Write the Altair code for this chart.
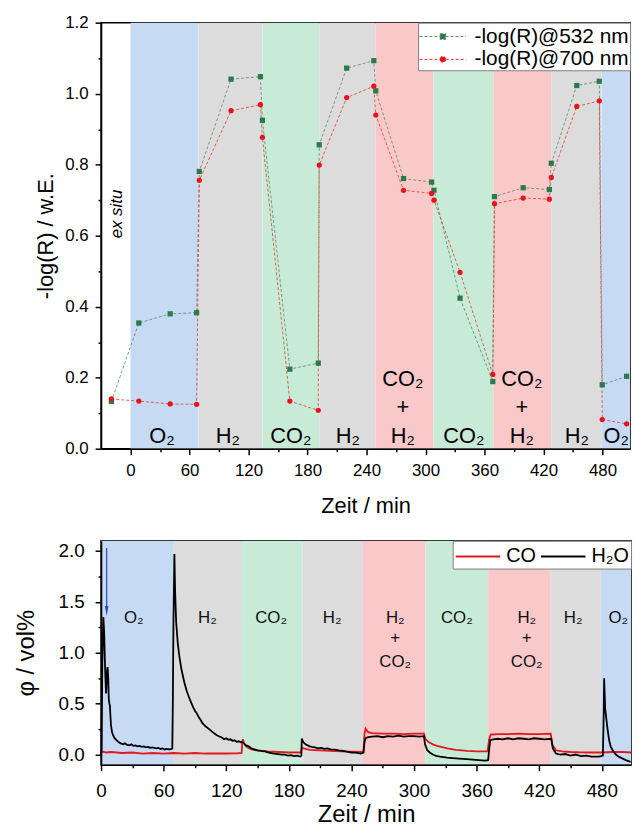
import altair as alt
import pandas as pd

FONT = "Liberation Sans"

# ---------------- top panel: reflectance ----------------
refl_t = [-19.5, 8.4, 40.3, 67.2, 69.9, 102.2, 132.1, 134.1, 162.0, 190.9, 191.9, 219.8, 247.4,
          249.4, 277.6, 306.2, 308.6, 335.1, 368.4, 370.1, 399.3, 425.9, 427.9, 453.8, 476.7,
          479.7, 504.5]
refl_532 = [0.133, 0.354, 0.380, 0.383, 0.781, 1.041, 1.048, 0.925, 0.224, 0.241, 0.856, 1.072,
            1.093, 1.008, 0.761, 0.751, 0.728, 0.424, 0.189, 0.710, 0.735, 0.730, 0.804, 1.023,
            1.035, 0.180, 0.204]
refl_700 = [0.140, 0.134, 0.126, 0.125, 0.756, 0.952, 0.969, 0.877, 0.134, 0.108, 0.799, 0.989,
            1.021, 0.940, 0.728, 0.719, 0.700, 0.497, 0.209, 0.690, 0.706, 0.703, 0.764, 0.964,
            0.980, 0.082, 0.070]
series_names = ["-log(R)@532 nm", "-log(R)@700 nm"]

top_band_start = [0, 69, 134, 192, 249, 308, 369, 428, 479]
top_band_end = [69, 134, 192, 249, 308, 369, 428, 479, 508]
top_band_gas = ["O2", "H2", "CO2", "H2", "mix", "CO2", "mix", "H2", "O2"]

top_label_t = [32, 99, 163, 221, 277, 277, 277, 339, 398, 398, 398, 454, 494]
top_label_v = [0.035, 0.035, 0.035, 0.035, 0.197, 0.117, 0.035, 0.035, 0.197, 0.117, 0.035, 0.035, 0.035]
top_label_text = ["O₂", "H₂", "CO₂", "H₂", "CO₂", "+", "H₂", "CO₂", "CO₂", "+", "H₂", "H₂", "O₂"]

# ---------------- bottom panel: gas analysis ----------------
h2o_t = [0, 0.5, 1.2, 2.2, 3.0, 3.6, 4.2, 4.8, 5.3, 5.8, 6.3, 6.9, 7.4, 8.0, 8.5, 9.0, 9.5, 10.5,
         11.5, 13, 15, 17, 19, 21, 23, 25, 27, 29, 31, 33, 35, 37, 39, 41, 43, 45, 47, 49, 51, 53,
         55, 57, 59, 61, 63, 65, 67, 68.3, 68.8, 69.4, 70.3, 71.0, 72, 73.5, 75, 77, 79.8, 82, 84,
         86.2, 88, 90, 92, 94, 95.7, 97, 99, 101, 103, 105, 107, 109, 111, 113, 114.7, 116, 118,
         120, 122, 124, 126, 128, 130, 132, 134, 135, 137, 139, 141.6, 144, 147, 150, 153, 157,
         160, 163, 166, 170, 173, 176, 179, 182, 185, 188, 191, 192.0, 192.4, 194, 196, 198, 200,
         202, 205, 208, 211, 214, 217, 220, 224, 228, 232, 236.7, 240, 244, 249, 251.5, 252.5,
         253.5, 256, 260, 265, 270, 275, 280, 285, 290, 295, 300, 305, 309.5, 310.5, 312.7, 315,
         318, 321, 325, 331.7, 337, 343, 350.8, 356, 362, 368, 371, 372, 373, 376, 380, 385, 390,
         395, 400, 405, 410, 415, 420, 425, 431.5, 433, 436, 440, 445, 450, 455, 460, 465, 470,
         477.5, 481, 481.8, 482.2, 483.2, 485.4, 487, 488.6, 491, 493.5, 496.5, 500, 503, 507.6]
h2o_v = [0.00, 0.05, 0.90, 1.35, 1.20, 0.95, 0.75, 0.60, 0.70, 0.82, 0.86, 0.75, 0.55, 0.50, 0.48,
         0.38, 0.29, 0.22, 0.19, 0.16, 0.14, 0.12, 0.11, 0.10, 0.11, 0.095, 0.09, 0.10, 0.085, 0.09,
         0.08, 0.085, 0.075, 0.08, 0.07, 0.075, 0.065, 0.07, 0.065, 0.06, 0.065, 0.055, 0.06, 0.05,
         0.055, 0.05, 0.052, 0.06, 0.50, 1.30, 1.97, 1.60, 1.30, 1.10, 0.97, 0.84, 0.71, 0.63, 0.57,
         0.515, 0.47, 0.43, 0.40, 0.36, 0.336, 0.31, 0.29, 0.27, 0.255, 0.238, 0.22, 0.205, 0.19,
         0.18, 0.173, 0.165, 0.15, 0.16, 0.145, 0.15, 0.135, 0.14, 0.125, 0.13, 0.12, 0.125, 0.11,
         0.09, 0.08, 0.06, 0.05, 0.04, 0.035, 0.03, 0.02, 0.015, 0.01, 0.005, 0.0, 0.0, -0.01,
         -0.005, -0.015, -0.01, -0.02, -0.01, 0.157, 0.12, 0.10, 0.09, 0.08, 0.075, 0.07, 0.06,
         0.065, 0.055, 0.06, 0.05, 0.049, 0.04, 0.035, 0.026, 0.02, 0.018, 0.01, 0.02, 0.12, 0.16,
         0.17, 0.175, 0.18, 0.17, 0.18, 0.175, 0.185, 0.175, 0.18, 0.18, 0.175, 0.18, 0.10, 0.042,
         0.02, 0.0, -0.013, -0.02, -0.03, -0.035, -0.04, -0.046, -0.05, -0.055, -0.06, -0.055,
         0.05, 0.14, 0.15, 0.155, 0.15, 0.16, 0.15, 0.16, 0.155, 0.15, 0.16, 0.155, 0.15, 0.155,
         0.06, 0.01, 0.0, 0.005, -0.01, 0.0, -0.015, -0.01, -0.02, -0.02, -0.01, 0.40, 0.75, 0.45,
         0.254, 0.14, 0.075, 0.03, 0.0, -0.023, -0.04, -0.055, -0.072]
co_t = [0, 5, 10, 20, 30, 40, 50, 60, 70, 80, 90, 100, 110, 120, 130, 134.8, 135.3, 136, 137, 139,
        142, 146, 150, 160, 170, 180, 191.5, 192.5, 194, 200, 210, 220, 230, 240, 251.5, 252.5,
        253.5, 256, 260, 270, 280, 290, 300, 309.5, 311, 314, 318, 322, 326, 332, 340, 351, 360,
        370.5, 372, 373.5, 380, 390, 400, 410, 420, 431, 432.5, 436, 442, 450, 460, 470, 480, 490,
        500, 508]
co_v = [0.03, 0.02, 0.025, 0.015, 0.02, 0.01, 0.015, 0.01, 0.015, 0.01, 0.015, 0.01, 0.012, 0.01,
        0.012, 0.015, 0.12, 0.15, 0.11, 0.08, 0.06, 0.045, 0.04, 0.03, 0.025, 0.02, 0.02, 0.07,
        0.06, 0.045, 0.04, 0.035, 0.03, 0.028, 0.025, 0.20, 0.254, 0.22, 0.21, 0.205, 0.205, 0.20,
        0.205, 0.205, 0.15, 0.124, 0.10, 0.085, 0.075, 0.06, 0.045, 0.035, 0.03, 0.03, 0.15, 0.195,
        0.20, 0.20, 0.205, 0.20, 0.20, 0.205, 0.10, 0.042, 0.03, 0.025, 0.022, 0.02, 0.02, 0.025,
        0.025, 0.02]
gas_series = ["CO", "H₂O"]

bot_band_start = [0, 69, 135, 193, 251, 311, 371, 431, 479]
bot_band_end = [69, 135, 193, 251, 311, 371, 431, 479, 508]
bot_band_gas = ["O2", "H2", "CO2", "H2", "mix", "CO2", "mix", "H2", "O2"]

bot_label_t = [31.4, 102, 163, 221.5, 282, 282, 282, 341, 408, 408, 408, 452.5, 495.7]
bot_label_v = [1.337, 1.337, 1.337, 1.337, 1.337, 1.14, 0.913, 1.337, 1.337, 1.14, 0.913, 1.337, 1.337]
bot_label_text = ["O₂", "H₂", "CO₂", "H₂", "H₂", "+", "CO₂", "CO₂", "H₂", "+", "CO₂", "H₂", "O₂"]

arrow_t = [5.4]
arrow_top = [2.03]
arrow_tail_end = [1.42]
arrow_head = [1.41]

# ---------------- styles ----------------
gas_keys = ["O2", "H2", "CO2", "mix"]
gas_colors = ["#c6daf4", "#dcdcdc", "#c8ebd8", "#f9c9c9"]
marker_colors = ["#2b7a4b", "#e8141b"]
dash_colors = ["#5e8468", "#dd3a34"]
line_colors = ["#e3171d", "#000000"]

SQ = "M-1.88,0H-0.22M0.22,0H1.88M-0.22,-0.22H0.22V0.22H-0.22Z"
CI = "M-1.88,0H-0.24M0.24,0H1.88M0.24,0A0.24,0.24,0,1,1,-0.24,0A0.24,0.24,0,1,1,0.24,0Z"
LN = "M-1.8,0H1.8"

# ---------------- tables ----------------
refl_df = pd.DataFrame({
    "t": refl_t * 2,
    "v": refl_532 + refl_700,
    "series": [series_names[0]] * len(refl_t) + [series_names[1]] * len(refl_t),
})
top_bands = pd.DataFrame({"s": top_band_start, "e": top_band_end, "gas": top_band_gas})
top_labels = pd.DataFrame({"t": top_label_t, "v": top_label_v, "txt": top_label_text})
exsitu_df = pd.DataFrame({"t": [-13.6], "v": [0.661], "txt": ["ex situ"]})

gas_df = pd.DataFrame({
    "t": co_t + h2o_t,
    "v": co_v + h2o_v,
    "series": [gas_series[0]] * len(co_t) + [gas_series[1]] * len(h2o_t),
})
bot_bands = pd.DataFrame({"s": bot_band_start, "e": bot_band_end, "gas": bot_band_gas})
bot_labels = pd.DataFrame({"t": bot_label_t, "v": bot_label_v, "txt": bot_label_text})
arrow_df = pd.DataFrame({"t": arrow_t, "v": arrow_top, "v2": arrow_tail_end, "h": arrow_head})

# ---------------- axes ----------------
def tick_cond(test, big, small):
    return {"condition": {"test": test, "value": big}, "value": small}

common_axis = dict(grid=False, domainColor="black", tickColor="black", domainWidth=1.5,
                   tickWidth=1.5, zindex=1, labelColor="black", titleColor="black",
                   titleFontWeight="normal", labelFont=FONT, titleFont=FONT,
                   labelFlush=False, labelOverlap=False, titleBaseline="middle")

top_x_axis = alt.Axis(values=list(range(0, 481, 30)), format="d", orient="bottom",
                      labelExpr="datum.value % 60 === 0 ? datum.label : ''",
                      tickSize=tick_cond("datum.value % 60 === 0", 6, 3),
                      title="Zeit / min", titleFontSize=22, labelFontSize=17, labelPadding=8,
                      titleY=57, **common_axis)
top_y_axis = alt.Axis(values=[0.0, 0.1, 0.2, 0.3, 0.4, 0.5, 0.6, 0.7, 0.8, 0.9, 1.0, 1.1, 1.2],
                      format=".1f", orient="left",
                      labelExpr="round(datum.value * 10) % 2 === 0 ? datum.label : ''",
                      tickSize=tick_cond("round(datum.value * 10) % 2 === 0", 6, 3),
                      title="-log(R) / w.E.", titleFontSize=22, labelFontSize=17, labelPadding=7,
                      titleX=-56, **common_axis)
bot_x_axis = alt.Axis(values=list(range(0, 481, 30)), format="d", orient="bottom",
                      labelExpr="datum.value % 60 === 0 ? datum.label : ''",
                      tickSize=tick_cond("datum.value % 60 === 0", 6, 3),
                      title="Zeit / min", titleFontSize=24, labelFontSize=19, labelPadding=11,
                      titleY=50, **common_axis)
bot_y_axis = alt.Axis(values=[0.0, 0.25, 0.5, 0.75, 1.0, 1.25, 1.5, 1.75, 2.0], format=".1f",
                      orient="left",
                      labelExpr="round(datum.value * 4) % 2 === 0 ? datum.label : ''",
                      tickSize=tick_cond("round(datum.value * 4) % 2 === 0", 6, 3),
                      title="φ / vol%", titleFontSize=24, labelFontSize=19, labelPadding=11,
                      titleX=-75, **common_axis)

top_xs = alt.Scale(domain=[-30, 508], nice=False, zero=False)
top_ys = alt.Scale(domain=[0, 1.2], nice=False, zero=False)
bot_xs = alt.Scale(domain=[0, 508], nice=False, zero=False)
bot_ys = alt.Scale(domain=[-0.1, 2.1], nice=False, zero=False)


def tx(field):
    return alt.X(field, scale=top_xs, axis=top_x_axis)


def ty(field):
    return alt.Y(field, scale=top_ys, axis=top_y_axis)


def bx(field):
    return alt.X(field, scale=bot_xs, axis=bot_x_axis)


def by(field):
    return alt.Y(field, scale=bot_ys, axis=bot_y_axis)


# ---------------- top chart ----------------
tb = alt.Chart(top_bands).mark_rect().encode(
    x=tx("s:Q"), x2="e:Q",
    color=alt.Color("gas:N", scale=alt.Scale(domain=gas_keys, range=gas_colors), legend=None),
)
tl = alt.Chart(top_labels).mark_text(font=FONT, fontSize=22, color="black", baseline="middle").encode(
    x=tx("t:Q"), y=ty("v:Q"), text="txt:N")
ex = alt.Chart(exsitu_df).mark_text(font=FONT, fontSize=17, fontStyle="italic", angle=270,
                                    color="black", baseline="middle").encode(
    x=tx("t:Q"), y=ty("v:Q"), text="txt:N")

top_layers = [tb, tl, ex]
for i, name in enumerate(series_names):
    top_layers.append(
        alt.Chart(refl_df).transform_filter(alt.datum.series == name)
        .mark_line(strokeDash=[3, 2], strokeWidth=0.8, color=dash_colors[i])
        .encode(x=tx("t:Q"), y=ty("v:Q"))
    )
for i, name in enumerate(series_names):
    top_layers.append(
        alt.Chart(refl_df).transform_filter(alt.datum.series == name)
        .mark_point(filled=True, opacity=1, size=28, shape=["square", "circle"][i], color=marker_colors[i])
        .encode(x=tx("t:Q"), y=ty("v:Q"))
    )

top_legend = alt.Legend(title=None, orient="top-right", offset=0, fillColor="white",
                        strokeColor="#808080", padding=1, labelFont=FONT, labelFontSize=21,
                        labelColor="black", symbolSize=625, symbolDash=[3, 2], symbolStrokeWidth=1,
                        symbolOffset=11, labelOffset=19, rowPadding=0)
leg = alt.Chart(refl_df).transform_filter("false").mark_point(filled=True, opacity=1).encode(
    x=tx("t:Q"), y=ty("v:Q"),
    fill=alt.Fill("series:N", scale=alt.Scale(domain=series_names, range=marker_colors), legend=top_legend),
    stroke=alt.Stroke("series:N", scale=alt.Scale(domain=series_names, range=dash_colors), legend=top_legend),
    shape=alt.Shape("series:N", scale=alt.Scale(domain=series_names, range=[SQ, CI]), legend=top_legend),
)
top_layers.append(leg)
top = alt.layer(*top_layers).properties(width=534, height=430)

# ---------------- bottom chart ----------------
bb = alt.Chart(bot_bands).mark_rect().encode(
    x=bx("s:Q"), x2="e:Q",
    fill=alt.Fill("gas:N", scale=alt.Scale(domain=gas_keys, range=gas_colors), legend=None),
)
bl = alt.Chart(bot_labels).mark_text(font=FONT, fontSize=17, color="#111111", baseline="middle").encode(
    x=bx("t:Q"), y=by("v:Q"), text="txt:N")
bot_legend = alt.Legend(title=None, orient="top-right", offset=0, direction="horizontal",
                        fillColor="white", strokeColor="#808080", padding=2, labelFont=FONT,
                        labelFontSize=20, labelColor="black", symbolType=LN, symbolSize=625,
                        symbolStrokeWidth=2, symbolOffset=10, labelOffset=15, columnPadding=1)
gl = alt.Chart(gas_df).mark_line(strokeWidth=1.8).encode(
    x=bx("t:Q"), y=by("v:Q"),
    color=alt.Color("series:N", scale=alt.Scale(domain=gas_series, range=line_colors), legend=bot_legend),
    order="t:Q",
)
ar = alt.Chart(arrow_df).mark_rule(color="#2846d6", strokeWidth=1.2).encode(
    x=bx("t:Q"), y=by("v:Q"), y2="v2:Q")
ah = alt.Chart(arrow_df).mark_point(filled=True, opacity=1, color="#2846d6", size=100,
                                    shape="M-0.35,-1L0.35,-1L0,1Z").encode(
    x=bx("t:Q"), y=by("h:Q"))
bottom = alt.layer(bb, bl, gl, ar, ah).properties(width=535, height=226)

chart = alt.vconcat(top, bottom, spacing=22).resolve_scale(
    x="independent", y="independent", color="independent", fill="independent",
    stroke="independent", shape="independent",
).properties(
    padding={"left": 14, "top": 9, "right": 1, "bottom": 0},
    background="white",
).configure_view(stroke="black", strokeWidth=1.5)

chart.save("out.html", embed_options={"renderer": "svg", "actions": False})
